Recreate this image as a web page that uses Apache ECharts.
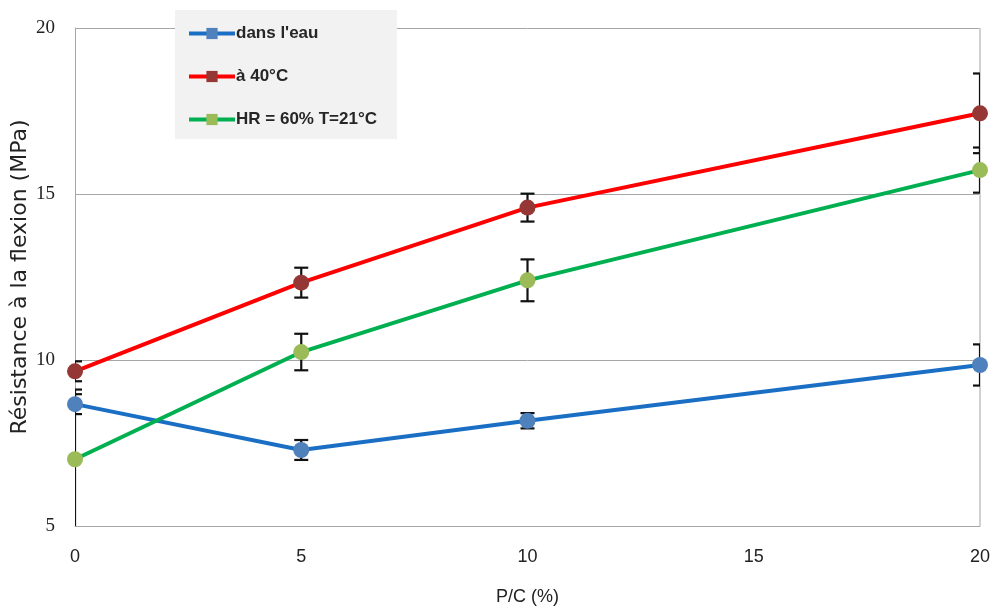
<!DOCTYPE html>
<html>
<head>
<meta charset="utf-8">
<script src="https://cdn.jsdelivr.net/npm/echarts@6/dist/echarts.min.js"></script>
<style>html,body{margin:0;padding:0;background:#fff}#c{width:994px;height:610px}</style>
</head>
<body>
<div id="c"></div>
<script>
const xValues = [0, 5, 10, 20];
const seriesNames = ["dans l'eau", "à 40°C", "HR = 60% T=21°C"];
const eauValues = [8.67, 7.29, 8.17, 9.85];
const eauErrors = [0.30, 0.30, 0.23, 0.62];
const chaudValues = [9.66, 12.33, 14.59, 17.43];
const chaudErrors = [0.30, 0.45, 0.42, 1.20];
const hrValues = [7.01, 10.24, 12.40, 15.72];
const hrErrors = [2.10, 0.55, 0.63, 0.68];
const xTicks = [0, 5, 10, 15, 20];
const yTicks = [5, 10, 15, 20];

const lineColors = ['#1a6fc4', '#ff0000', '#00b050'];
const markerColors = ['#4f81bd', '#953735', '#9bbb59'];
const allValues = [eauValues, chaudValues, hrValues];
const allErrors = [eauErrors, chaudErrors, hrErrors];

const chart = echarts.init(document.getElementById('c'));

function errorSeries(vals, errs) {
  return {
    type: 'custom',
    silent: true,
    clip: true,
    z: 3,
    data: xValues.map((x, i) => [x, vals[i] - errs[i], vals[i] + errs[i]]),
    renderItem: function (params, api) {
      const lo = api.coord([api.value(0), api.value(1)]);
      const hi = api.coord([api.value(0), api.value(2)]);
      const hw = 7;
      const st = { stroke: '#111', lineWidth: 2.2 };
      return {
        type: 'group',
        children: [
          { type: 'line', shape: { x1: lo[0], y1: lo[1], x2: hi[0], y2: hi[1] }, style: st },
          { type: 'line', shape: { x1: lo[0] - hw, y1: lo[1], x2: lo[0] + hw, y2: lo[1] }, style: st },
          { type: 'line', shape: { x1: hi[0] - hw, y1: hi[1], x2: hi[0] + hw, y2: hi[1] }, style: st }
        ]
      };
    }
  };
}

const series = [];
// legend-only entries (no data): line with a square marker, as in the original legend
seriesNames.forEach((n, k) => {
  series.push({
    name: n,
    type: 'line',
    data: [],
    symbol: 'rect',
    lineStyle: { color: lineColors[k], width: 4 },
    itemStyle: { color: markerColors[k] }
  });
});
allValues.forEach((vals, k) => {
  series.push(errorSeries(vals, allErrors[k]));
});
allValues.forEach((vals, k) => {
  series.push({
    name: seriesNames[k],
    type: 'line',
    z: 4,
    data: xValues.map((x, i) => [x, vals[i]]),
    symbol: 'circle',
    symbolSize: 16,
    lineStyle: { color: lineColors[k], width: 4 },
    itemStyle: { color: markerColors[k] },
    emphasis: { disabled: true }
  });
});

chart.setOption({
  animation: false,
  backgroundColor: '#ffffff',
  grid: { left: 75, right: 14, top: 28, bottom: 84, containLabel: false, outerBoundsMode: 'none' },
  legend: {
    orient: 'vertical',
    left: 175,
    top: 10,
    data: seriesNames.map(n => ({ name: n })),
    backgroundColor: '#f2f2f2',
    padding: [15, 20, 11, 12],
    itemWidth: 46,
    itemHeight: 14,
    itemGap: 26,
    lineStyle: { width: 4 },
    textStyle: { fontFamily: 'Liberation Sans, Arial, sans-serif', fontSize: 17, fontWeight: 'bold', color: '#262626', padding: [0, 0, 0, -4] }
  },
  xAxis: {
    type: 'value',
    min: 0, max: 20, interval: 5,
    name: 'P/C (%)',
    nameLocation: 'middle',
    nameGap: 62,
    nameMoveOverlap: false,
    nameTextStyle: { fontFamily: 'Liberation Sans Narrow, Liberation Sans, sans-serif', fontSize: 18, color: '#222' },
    axisLine: { show: true, lineStyle: { color: '#a6a6a6', width: 1 } },
    axisTick: { show: false },
    axisLabel: { margin: 22, fontFamily: 'Liberation Sans Narrow, Liberation Sans, sans-serif', fontSize: 18, color: '#222',
      formatter: v => String(xTicks[xTicks.indexOf(v)]) },
    splitLine: { show: false }
  },
  yAxis: {
    type: 'value',
    min: 5, max: 20, interval: 5,
    name: 'Résistance à la flexion (MPa)',
    nameLocation: 'middle',
    nameGap: 44,
    nameMoveOverlap: false,
    nameRotate: 90,
    nameTextStyle: { fontFamily: 'DejaVu Sans, sans-serif', fontSize: 22, color: '#222' },
    axisLine: { show: true, lineStyle: { color: '#a6a6a6', width: 1 } },
    axisTick: { show: false },
    axisLabel: { margin: 20, fontFamily: 'Liberation Serif, DejaVu Serif, serif', fontSize: 19, color: '#222',
      formatter: v => String(yTicks[yTicks.indexOf(v)]) },
    splitLine: { show: true, lineStyle: { color: '#a6a6a6', width: 1 } }
  },
  series: series
});

// right border of the plot area
const gridRect = chart.getModel().getComponent('grid').coordinateSystem.getRect();
chart.setOption({
  graphic: [{
    type: 'line', silent: true, z: 0,
    shape: { x1: gridRect.x + gridRect.width, y1: gridRect.y, x2: gridRect.x + gridRect.width, y2: gridRect.y + gridRect.height },
    style: { stroke: '#d0d0d0', lineWidth: 2 }
  }]
});
</script>
</body>
</html>
